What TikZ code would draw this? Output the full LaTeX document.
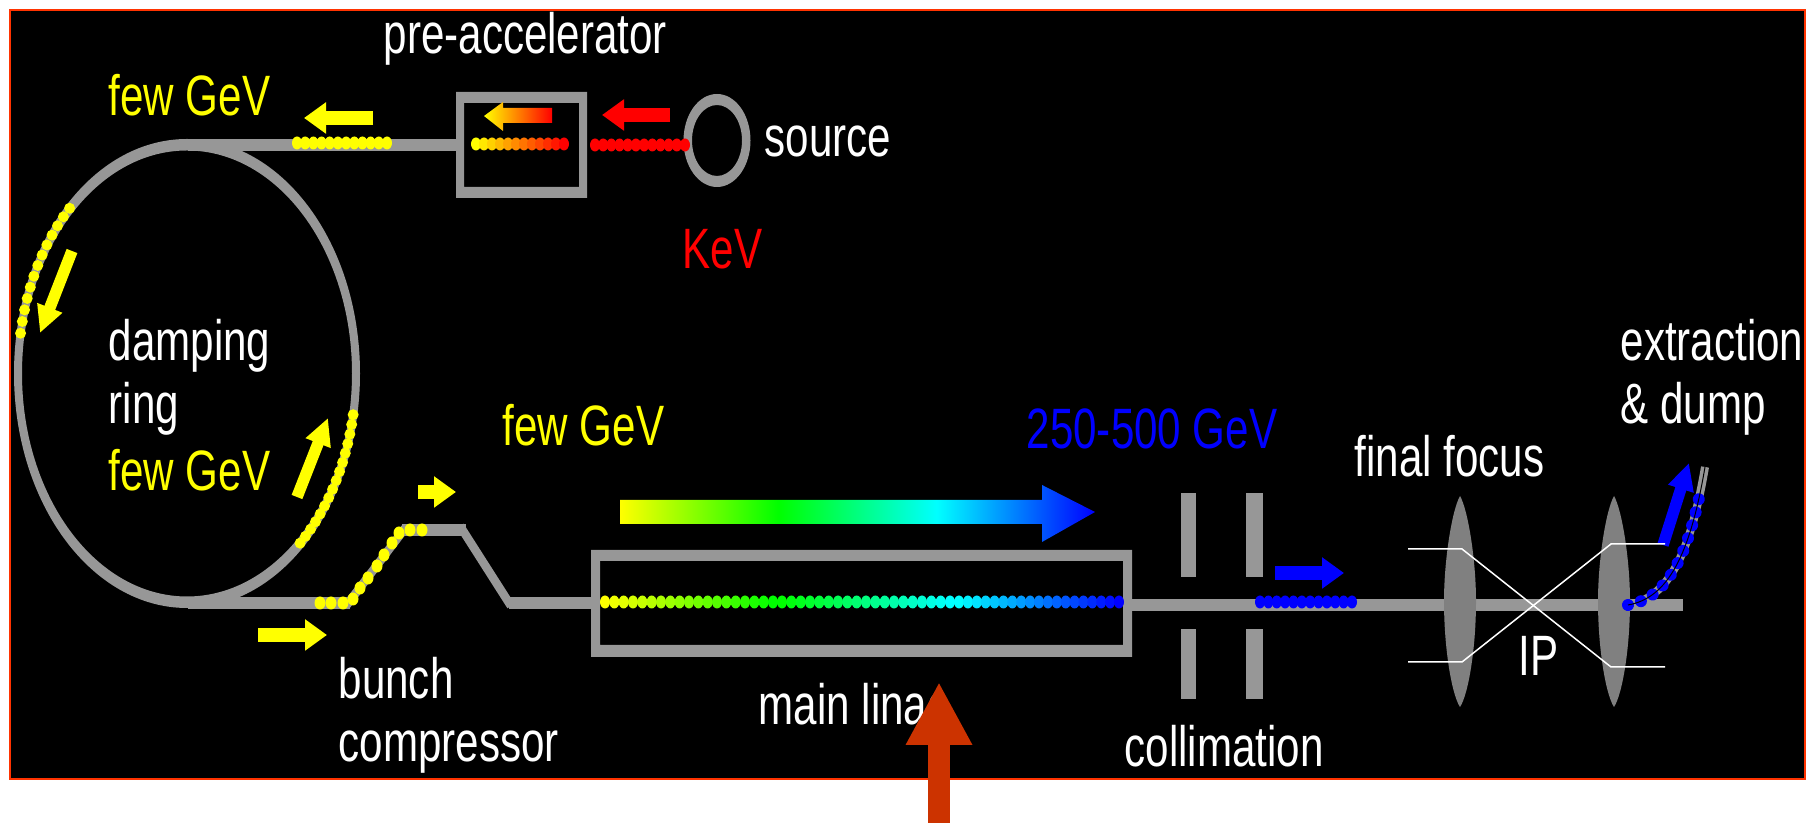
\documentclass[tikz,border=0pt]{standalone}
\usepackage{fontspec}
\setmainfont[FakeStretch=0.74]{Liberation Sans}
\usepackage{xcolor}
\usetikzlibrary{arrows.meta,decorations.markings}
\definecolor{yellow}{rgb}{1,1,0}
\definecolor{cyan}{rgb}{0,1,1}
\definecolor{pipegray}{HTML}{979797}
\definecolor{lensgray}{HTML}{808080}
\definecolor{framered}{HTML}{FF3300}
\definecolor{rfred}{HTML}{CC3300}
\pgfdeclarehorizontalshading{linacshade}{100bp}{color(0bp)=(yellow); color(25bp)=(yellow); color(41.67bp)=(green); color(58.33bp)=(cyan); color(75bp)=(blue); color(100bp)=(blue)}
\pgfdeclarehorizontalshading{preshade}{100bp}{color(0bp)=(yellow); color(25bp)=(yellow); color(75bp)=(red); color(100bp)=(red)}
\newcommand{\bunchrow}[6]{%
  \foreach \i in {0,...,#4}{%
    \pgfmathsetmacro{\mixval}{100*\i/#4}
    \fill[#6!\mixval!#5] ({#1+(#2-#1)*\i/#4},#3) ellipse [x radius=5, y radius=6.5];
  }}
\newcommand{\lens}[1]{%
  \fill[lensgray] (#1,496) .. controls (#1+8,510) and (#1+16,560) .. (#1+16,601)
    .. controls (#1+16,650) and (#1+8,695) .. (#1,707)
    .. controls (#1-8,695) and (#1-16,650) .. (#1-16,601)
    .. controls (#1-16,560) and (#1-8,510) .. (#1,496);}

\begin{document}
\begin{tikzpicture}[
  x=0.1mm, y=-0.1mm,
  txt/.style={anchor=base west, inner sep=0pt, align=left, text=white,
    font=\fontsize{16.2}{17.9}\selectfont},
  pipe/.style={draw=pipegray, line width=1.2mm},
  thinpipe/.style={draw=pipegray, line width=0.85mm},
  beamline/.style={draw=white, line width=0.15mm},
  arr/.style={-{Triangle[length=2.2mm, width=3mm]}, line width=1.4mm},
  ringarr/.style={-{Triangle[length=2.7mm, width=2.5mm]}, line width=1.15mm}
]
\useasboundingbox (0,0) rectangle (1808,823);
\fill[white] (0,0) rectangle (1808,823);
\draw[framered, line width=0.25mm, fill=black] (10,10) rectangle (1805,779);

\fill[pipegray, even odd rule] (187,373.5) ellipse [x radius=173, y radius=234.5]
  (187,373.5) ellipse [x radius=165, y radius=223];
\draw[pipe] (188,145) -- (456,145);
\draw[pipe] (188,603) -- (350,603);
\draw[pipe] (402,530) -- (466,530);
\draw[thinpipe] (346,606) -- (406,527);
\draw[thinpipe] (460,526) -- (511,606);
\draw[pipe] (509,603) -- (592,603);
\draw[pipe] (1132,605) -- (1683,605);
\fill[pipegray, even odd rule] (717,140.5) ellipse [x radius=33.5, y radius=46.5]
  (717,140.5) ellipse [x radius=25, y radius=35.5];

\fill[pipegray, even odd rule] (456,92) rectangle (587,198) (464,103) rectangle (579,187);
\fill[pipegray, even odd rule] (591,550) rectangle (1132,657) (600,561) rectangle (1123,645);

\foreach \slitx/\slitw in {1181/15, 1246/17}{
  \fill[pipegray] (\slitx,493) rectangle ++(\slitw,84);
  \fill[pipegray] (\slitx,629) rectangle ++(\slitw,70);
}

\lens{1460}
\lens{1614}

\draw[pipegray, line width=0.8mm] (1628,605) .. controls (1668,598) and (1690,555) .. (1705,467);
\path[postaction={decorate}, decoration={markings,
    mark=between positions 0 and 0.85 step 1.35mm with {\fill[blue] (0,0) ellipse [x radius=6, y radius=6];}}]
  (1628,605) .. controls (1668,598) and (1690,555) .. (1705,467);
\draw[black, line width=0.1mm] (1628,605) .. controls (1668,598) and (1690,555) .. (1705,467);

\bunchrow{297}{387}{143}{11}{yellow}{yellow}
\bunchrow{476}{564}{144}{11}{yellow}{red}
\bunchrow{595}{685}{145}{11}{red}{red}
\bunchrow{605}{773}{602}{18}{yellow}{green}
\bunchrow{782}{950}{602}{18}{green}{cyan}
\bunchrow{959}{1119}{602}{18}{cyan}{blue}
\bunchrow{1260}{1352}{602}{11}{blue}{blue}

\foreach \a in {190,193,...,226}{
  \fill[yellow] ({187+169*cos(\a)},{373+229*sin(\a)}) circle [radius=5.5];
}
\foreach \a in {10.5,13,...,48}{
  \fill[yellow] ({187+169*cos(\a)},{373+229*sin(\a)}) circle [radius=5.5];
}
\foreach \dotx/\doty in {320/603, 331/603, 343/603, 353/599, 360/588, 368/578, 377/566,
    384/555, 392/543, 399/533, 410/530, 422/530}{
  \fill[yellow] (\dotx,\doty) ellipse [x radius=5.5, y radius=6.5];
}

\draw[arr, yellow] (373,118) -- (304,118);
\draw[arr, red] (670,115) -- (602,115);
\draw[arr, yellow] (258,635) -- (327,635);
\draw[arr, yellow] (418,492) -- (456,492);
\draw[arr, blue] (1275,573) -- (1344,573);
\draw[ringarr, yellow] (72,251) -- (40,333);
\draw[ringarr, yellow] (297,497) -- (328,418);
\draw[ringarr, blue] (1663,545) -- (1689,463);

\shade[shading=preshade] (552,108) -- (503,108) -- (503,102) -- (484,116) -- (503,131)
  -- (503,123) -- (552,123) -- cycle;
\shade[shading=linacshade] (620,500) -- (1042,500) -- (1042,485) -- (1095,512) -- (1042,542)
  -- (1042,524) -- (620,524) -- cycle;

\draw[beamline] (1408,549) -- (1462,549) -- (1611,667) -- (1665,667);
\draw[beamline] (1408,662) -- (1462,662) -- (1611,544) -- (1665,544);

\node[txt] (preacc) at (383,54) {pre-accelerator};
\node[txt, text=yellow] (fewtop) at (108,116) {few GeV};
\node[txt] (source) at (764,157) {source};
\node[txt, text=red] (kev) at (682,269) {KeV};
\node[txt] (damping) at (108,361) {damping};
\node[txt] (ring) at (108,424) {ring};
\node[txt, text=yellow] (fewring) at (108,491) {few GeV};
\node[txt, text=yellow] (fewlinac) at (502,446) {few GeV};
\node[txt] (bunch) at (338,699) {bunch};
\node[txt] (compressor) at (338,762) {compressor};
\node[txt] (linac) at (758,725) {main linac};
\node[txt, text=blue] (tev) at (1026,449) {250-500 GeV};
\node[txt] (focus) at (1354,477) {final focus};
\node[txt] (extraction) at (1620,361) {extraction};
\node[txt] (dump) at (1620,424) {\& dump};
\node[txt] (ip) at (1518,676) {IP};
\node[txt] (collimation) at (1124,767) {collimation};

\coordinate (rfbase) at (939,823);
\coordinate (rftip) at (939,682);
\draw[-{Triangle[length=6.3mm, width=6.2mm]}, rfred, line width=2.2mm] (rfbase) -- (rftip);
\end{tikzpicture}
\end{document}
